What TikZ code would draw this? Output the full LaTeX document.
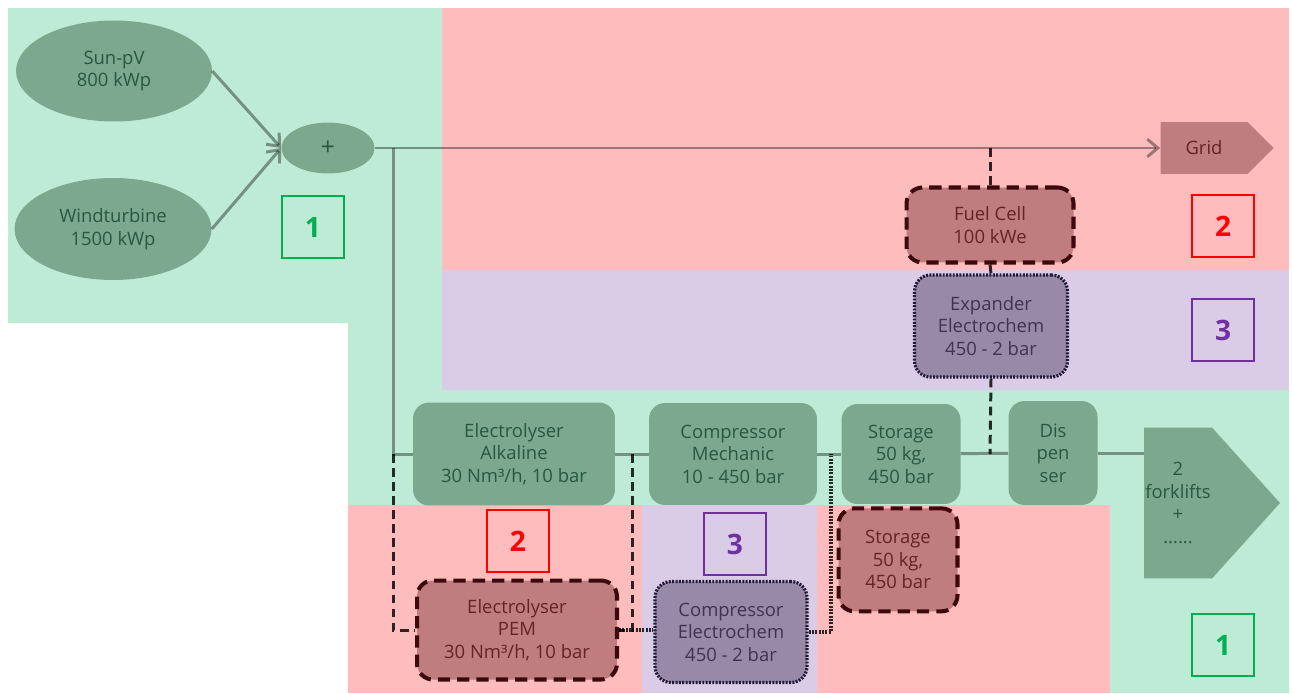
\documentclass[tikz,border=0pt]{standalone}
\usepackage{fontspec}
\setmainfont{Open Sans}
\usetikzlibrary{arrows.meta, positioning, shapes.geometric, shapes.symbols}
\definecolor{bggreen}{RGB}{190,235,213}
\definecolor{bgred}{RGB}{255,188,189}
\definecolor{bgpurple}{RGB}{218,203,230}
\definecolor{boxgreen}{RGB}{123,168,142}
\definecolor{boxred}{RGB}{192,125,127}
\definecolor{boxpurple}{RGB}{152,138,166}
\definecolor{txtgreen}{RGB}{40,88,64}
\definecolor{txtred}{RGB}{100,35,40}
\definecolor{txtpurple}{RGB}{65,50,85}
\definecolor{edgered}{RGB}{60,10,12}
\definecolor{edgepurple}{RGB}{30,25,55}
\definecolor{numgreen}{RGB}{0,176,80}
\definecolor{numred}{RGB}{255,0,0}
\definecolor{numpurple}{RGB}{112,48,160}

\tikzset{
	unit/.style={rounded corners=0.32cm, align=center, inner sep=2pt, font=\fontsize{10.5}{12.8}\selectfont},
	greenunit/.style={unit, fill=boxgreen, text=txtgreen},
	redunit/.style={unit, fill=boxred, text=txtred, draw=edgered, line width=2.3pt, dash pattern=on 7pt off 4pt},
	purpleunit/.style={unit, fill=boxpurple, text=txtpurple, draw=edgepurple, line width=1.8pt, dash pattern=on 1.1pt off 0.8pt},
	source/.style={ellipse, fill=boxgreen, text=txtgreen, align=center, font=\fontsize{10.5}{12.8}\selectfont},
	sink/.style={signal, signal to=east, inner sep=0pt, align=center, font=\fontsize{10.5}{12.8}\selectfont},
	flow/.style={draw=black, draw opacity=0.38, line width=1.7pt},
	dashlink/.style={draw=black, draw opacity=0.82, line width=1.7pt, dash pattern=on 5pt off 3pt},
	dotlink/.style={draw=black, draw opacity=0.82, line width=1.8pt, dash pattern=on 1.1pt off 0.8pt},
	numbox/.style={draw, line width=1.1pt, minimum size=1.25cm, font=\fontsize{16}{16}\selectfont\bfseries},
}

\begin{document}
\begin{tikzpicture}[x=0.02cm, y=-0.02cm]
	\useasboundingbox (0,0) rectangle (1293,693);
	
	%--------------------------------------------------------------------
	% zones
	\fill[bggreen] (8,8) -- (442,8) -- (442,390) -- (1289,390) -- (1289,693) -- (1110,693) -- (1110,505) -- (348,505) -- (348,323) -- (8,323) -- cycle;
	\fill[bgred] (442,8) rectangle (1289,270);
	\fill[bgpurple] (442,270) rectangle (1289,390);
	\fill[bgred] (348,505) rectangle (642,693);
	\fill[bgpurple] (642,505) rectangle (817,693);
	\fill[bgred] (817,505) rectangle (1110,693);
	
	%--------------------------------------------------------------------
	% sources and grid
	\node(sun) [source, minimum width=3.92cm, minimum height=2.02cm] at (114,71) {Sun-pV\\800 kWp};
	\node(wind) [source, minimum width=3.94cm, minimum height=2.04cm] at (113,229) {Windturbine\\1500 kWp};
	\node(plus) [source, minimum width=1.86cm, minimum height=1.02cm, font=\fontsize{14}{14}\selectfont] at (328,148) {+};
	\node(grid) [sink, fill=boxred, text=txtred, signal pointer angle=90, minimum width=2.26cm, minimum height=1.04cm] at (1204,148) {Grid};
	
	\node(fuel) [redunit, minimum width=3.34cm, minimum height=1.5cm] at (990,225) {Fuel Cell\\100 kWe};
	\node(expander) [purpleunit, minimum width=3.06cm, minimum height=2.04cm] at (991,326) {Expander\\Electrochem\\450 - 2 bar};
	
	%--------------------------------------------------------------------
	% hydrogen chain
	\node(alk) [greenunit, minimum width=4.04cm, minimum height=2.06cm] at (514,454) {Electrolyser\\Alkaline\\30 Nm³/h, 10 bar};
	\node(compmech) [greenunit, minimum width=3.36cm, minimum height=2.04cm] at (733,454) {Compressor\\Mechanic\\10 - 450 bar};
	\node(store) [greenunit, minimum width=2.38cm, minimum height=2.0cm] at (901,454) {Storage\\50 kg,\\450 bar};
	\node(disp) [greenunit, minimum width=1.78cm, minimum height=2.08cm] at (1053,453) {Dis\\pen\\ser};
	\node(fork) [sink, fill=boxgreen, text=txtgreen, signal pointer angle=96, minimum width=2.72cm, minimum height=3.02cm] at (1178,503) {2\\forklifts\\+\\......};
	
	\node(pem) [redunit, minimum width=4.0cm, minimum height=1.98cm] at (517,630) {Electrolyser\\PEM\\30 Nm³/h, 10 bar};
	\node(compel) [purpleunit, minimum width=3.04cm, minimum height=2.02cm] at (731,632) {Compressor\\Electrochem\\450 - 2 bar};
	\node(store2) [redunit, minimum width=2.38cm, minimum height=2.06cm, below=0.04cm of store, xshift=-0.06cm] {Storage\\50 kg,\\450 bar};
	
	%--------------------------------------------------------------------
	% scenario labels
	\node(one) [numbox, numgreen] at (313,227) {1};
	\node(two) [numbox, numred] at (1223,226) {2};
	\node(three) [numbox, numpurple] at (1223,330) {3};
	\node(twob) [numbox, numred] at (518,541) {2};
	\node(threeb) [numbox, numpurple] at (735,544) {3};
	\node(oneb) [numbox, numgreen] at (1223,645) {1};
	
	%--------------------------------------------------------------------
	% connectors
	\coordinate (tap) at (393,148);
	\coordinate (tapb) at (393,454);
	\coordinate (alkout) at (632,454);
	\coordinate (storein) at (831,454);
	\coordinate (fcjoin) at (990,148);
	\coordinate (h2join) at (990,454);
	
	\draw[flow, -{Straight Barb[length=6pt, width=10pt]}] (sun.east) -- (plus.west);
	\draw[flow, -{Straight Barb[length=6pt, width=10pt]}] (wind.east) -- (plus.west);
	\draw[flow, -{Straight Barb[length=6pt, width=10pt]}] (plus.east) -- (grid.west);
	\draw[flow] (tap) |- (alk.west);
	\draw[flow] (alk) -- (compmech);
	\draw[flow] (compmech) -- (store);
	\draw[flow] (store) -- (disp);
	\draw[flow] (disp.east) -- (disp.east -| fork.west);
	
	\draw[dashlink] (fcjoin) -- (fuel.north);
	\draw[dashlink] (fuel.south) -- (expander.north);
	\draw[dashlink] (expander.south) -- (h2join);
	\draw[dashlink] (tapb) |- (pem.west);
	\draw[dashlink] (alkout) |- (pem.east);
	\draw[dotlink] (pem.east) -- (pem.east -| compel.west);
	\draw[dotlink] (compel.east) -| (storein);
	
\end{tikzpicture}
\end{document}
